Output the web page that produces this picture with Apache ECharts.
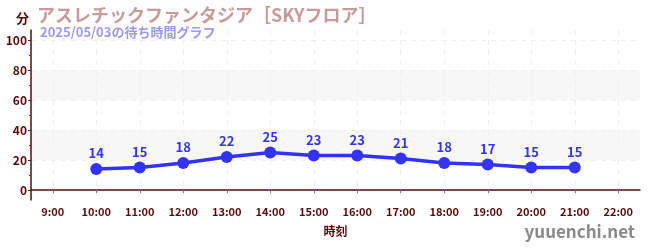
<!DOCTYPE html>
<html>
<head>
<meta charset="utf-8">
<script src="https://cdn.jsdelivr.net/npm/echarts@6/dist/echarts.min.js"></script>
<style>
  html, body { margin: 0; padding: 0; background: #fff; }
  #chart { width: 650px; height: 250px; }
</style>
</head>
<body>
<div id="chart"></div>
<script>
// 時刻 (hour) and wait minutes
const hours = [10, 11, 12, 13, 14, 15, 16, 17, 18, 19, 20, 21]
const waitMinutes = [14, 15, 18, 22, 25, 23, 23, 21, 18, 17, 15, 15]
const hourTicks = [9, 10, 11, 12, 13, 14, 15, 16, 17, 18, 19, 20, 21, 22]
const minuteTicks = [0, 20, 40, 60, 80, 100]
const minorMinuteTicks = [10, 30, 50, 70, 90]

const font = '"Noto Sans CJK JP", "Noto Sans", sans-serif'
const axisColor = '#5a0a0a'
const lineColor = '#3333f5'

const chart = echarts.init(document.getElementById('chart'))

const option = {
  animation: false,
  textStyle: { fontFamily: font },
  title: [
    {
      text: 'アスレチックファンタジア［SKYフロア］',
      left: 32, top: 1,
      padding: 5,
      textStyle: { fontFamily: font, fontSize: 18, fontWeight: 'bold', color: '#c89a9a' }
    },
    {
      text: '2025/05/03の待ち時間グラフ',
      left: 35, top: 21,
      textStyle: { fontFamily: font, fontSize: 13, fontWeight: 'bold', color: '#9a9af5' }
    },
    {
      text: '分',
      left: 11, top: 7,
      textStyle: { fontFamily: font, fontSize: 13, fontWeight: 'bold', color: axisColor }
    },
    {
      text: 'yuuenchi.net',
      right: 10, top: 218,
      textStyle: { fontFamily: font, fontSize: 17, fontWeight: 'bold', color: '#8a8a8a' }
    }
  ],
  grid: { left: 31, right: 10, top: 30, bottom: 50 },
  xAxis: {
    type: 'value',
    min: 8.5,
    max: 22.5,
    name: '時刻',
    nameLocation: 'middle',
    nameGap: 25,
    nameTextStyle: { fontFamily: font, fontSize: 12, fontWeight: 'bold', color: axisColor },
    axisLine: { lineStyle: { color: axisColor, width: 1.5 } },
    axisTick: { customValues: hourTicks, length: 3, lineStyle: { color: '#777' } },
    axisLabel: {
      customValues: hourTicks,
      formatter: v => v + ':00',
      fontFamily: font, fontSize: 11, fontWeight: 'bold', color: axisColor, margin: 6
    },
    splitLine: { show: true, lineStyle: { color: '#eee', type: [5, 5] } }
  },
  yAxis: [
    {
      type: 'value',
      min: -6.67,
      max: 106.67,
      axisLine: { show: true, lineStyle: { color: axisColor, width: 1.5 } },
      axisTick: { show: true, customValues: minuteTicks, length: 3, lineStyle: { color: '#333' } },
      axisLabel: {
        customValues: minuteTicks,
        fontFamily: font, fontSize: 12, fontWeight: 'bold', color: axisColor, margin: 4
      },
      splitLine: { show: true, lineStyle: { color: '#eee', type: [5, 5] } },
      splitArea: { show: true, areaStyle: { color: ['#fff', '#f7f7f7'] } }
    },
    {
      type: 'value',
      position: 'left',
      min: -6.67,
      max: 106.67,
      axisLine: { show: false },
      axisTick: { show: true, customValues: minorMinuteTicks, length: 2, lineStyle: { color: '#e00' } },
      axisLabel: { show: false },
      splitLine: { show: false }
    }
  ],
  series: [
    {
      type: 'line',
      data: hours.map((h, i) => [h, waitMinutes[i]]),
      symbol: 'circle',
      symbolSize: 12,
      lineStyle: { color: lineColor, width: 3.5 },
      itemStyle: { color: lineColor },
      label: {
        show: true,
        position: 'top',
        distance: 3,
        fontFamily: font, fontSize: 13, fontWeight: 'bold', color: lineColor
      }
    }
  ]
}

chart.setOption(option)
</script>
</body>
</html>
